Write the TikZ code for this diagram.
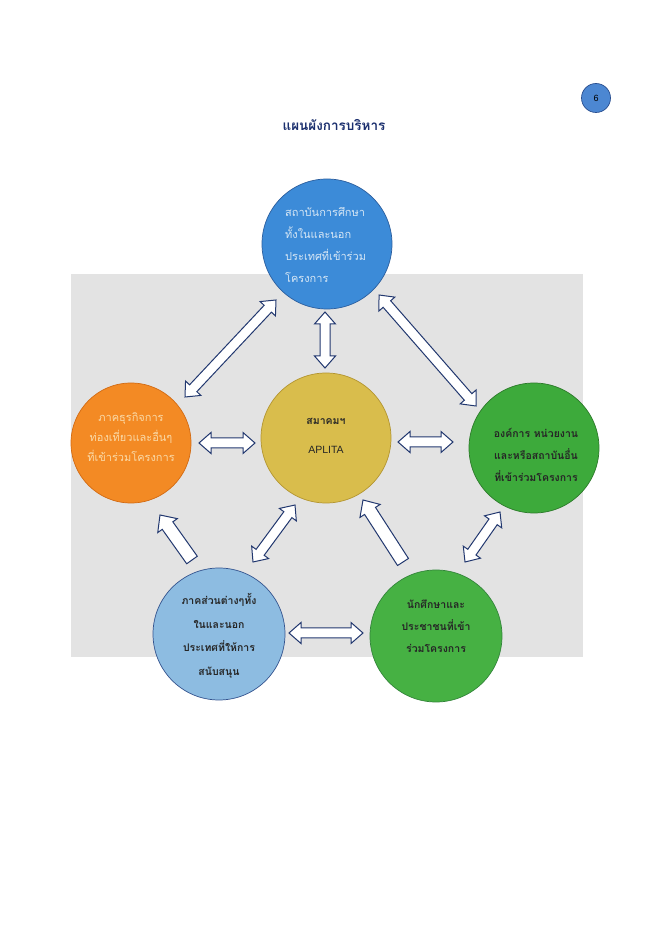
\documentclass[tikz,border=0pt]{standalone}
\usepackage{fontspec}
\setmainfont{Liberation Sans}
\newfontfamily\thai[Script=Thai]{Loma}
\usetikzlibrary{calc}
\definecolor{cblue}{HTML}{3C8BD8}\definecolor{cblueD}{HTML}{2B5E9E}
\definecolor{corange}{HTML}{F38A24}\definecolor{corangeD}{HTML}{D26A12}
\definecolor{cyellow}{HTML}{D9BD4C}\definecolor{cyellowD}{HTML}{B39530}
\definecolor{cgreen}{HTML}{3DAA3B}\definecolor{cgreenD}{HTML}{2C7A2A}
\definecolor{clblue}{HTML}{8DBCE1}\definecolor{clblueD}{HTML}{34548F}
\definecolor{cgreenB}{HTML}{46B143}\definecolor{cgreenBD}{HTML}{33853A}
\definecolor{cpage}{HTML}{4C87D2}\definecolor{cpageD}{HTML}{2A4F90}
\definecolor{arrowc}{HTML}{22386F}
\definecolor{titlec}{HTML}{1B2F6E}
\definecolor{toptext}{HTML}{D5E6F5}
\definecolor{orangetext}{HTML}{FAD9A6}
\definecolor{bggray}{HTML}{E3E3E3}
\def\arHL{12pt}\def\arHW{10.5pt}\def\arSW{5pt}
\def\arsHL{13pt}\def\arsHW{12pt}\def\arsSW{6.5pt}
\newcommand\dblarrow[2]{%
  \coordinate (ha) at ($(#1)!\arHL!(#2)$);
  \coordinate (hb) at ($(#2)!\arHL!(#1)$);
  \draw[barrow] (#1) -- ($(ha)!\arHW!90:(#2)$) -- ($(ha)!\arSW!90:(#2)$)
    -- ($(hb)!\arSW!-90:(#1)$) -- ($(hb)!\arHW!-90:(#1)$) -- (#2)
    -- ($(hb)!\arHW!90:(#1)$) -- ($(hb)!\arSW!90:(#1)$)
    -- ($(ha)!\arSW!-90:(#2)$) -- ($(ha)!\arHW!-90:(#2)$) -- cycle;}
\newcommand\sglarrow[2]{%
  \coordinate (hb) at ($(#2)!\arsHL!(#1)$);
  \draw[barrow] ($(#1)!\arsSW!90:(#2)$) -- ($(hb)!\arsSW!-90:(#1)$)
    -- ($(hb)!\arsHW!-90:(#1)$) -- (#2) -- ($(hb)!\arsHW!90:(#1)$)
    -- ($(hb)!\arsSW!90:(#1)$) -- ($(#1)!\arsSW!-90:(#2)$) -- cycle;}
\tikzset{
  circ/.style={circle, line width=0.7pt, inner sep=0pt},
  barrow/.style={draw=arrowc, fill=white, line width=1pt, line join=miter},
  txt/.style={inner sep=0pt, font=\thai\fontsize{11}{20}\selectfont},
  dtxt/.style={inner sep=0pt, align=center, text=black!85, font=\thai\bfseries\fontsize{10.5}{22}\selectfont},
}
\begin{document}
\begin{tikzpicture}[x=1pt,y=1pt]
\useasboundingbox (0,0) rectangle (660,930);
\fill[white] (0,0) rectangle (660,930);
\fill[bggray] (71,273) rectangle (583,656);
% page number
\node[circ, fill=cpage, draw=cpageD, minimum size=29pt, font=\fontsize{9}{10}\selectfont] (pg) at (596,832) {6};
\node[font=\thai\bfseries\fontsize{13.5}{15}\selectfont, text=titlec] (title) at (334,805) {แผนผังการบริหาร};
% circles
\node[circ, fill=cblue, draw=cblueD, minimum size=130pt] (T) at (327,686) {};
\node[circ, fill=corange, draw=corangeD, minimum size=120pt] (L) at (131,487) {};
\node[circ, fill=cyellow, draw=cyellowD, minimum size=130pt] (C) at (326,492) {};
\node[circ, fill=cgreen, draw=cgreenD, minimum size=130pt] (R) at (534,482) {};
\node[circ, fill=clblue, draw=clblueD, minimum size=132pt] (BL) at (219,296) {};
\node[circ, fill=cgreenB, draw=cgreenBD, minimum size=132pt] (BR) at (436,294) {};
% texts
\node[txt, text=toptext, align=left, anchor=west, font=\thai\fontsize{11}{22}\selectfont] (tT) at (285,685) {สถาบันการศึกษา\\ทั้งในและนอก\\ประเทศที่เข้าร่วม\\โครงการ};
\node[txt, text=orangetext, align=center] (tL) at (131,493) {ภาคธุรกิจการ\\ท่องเที่ยวและอื่นๆ\\ที่เข้าร่วมโครงการ};
\node[txt, align=center, text=black!85, font=\fontsize{10.5}{29}\selectfont] (tC) at (326,494) {{\thai\bfseries สมาคมฯ}\\APLITA};
\node[dtxt] (tR) at (536,475) {องค์การ หน่วยงาน\\และหรือสถาบันอื่น\\ที่เข้าร่วมโครงการ};
\node[dtxt, font=\thai\bfseries\fontsize{10.5}{23.5}\selectfont] (tBL) at (219,294) {ภาคส่วนต่างๆทั้ง\\ในและนอก\\ประเทศที่ให้การ\\สนับสนุน};
\node[dtxt] (tBR) at (436,304) {นักศึกษาและ\\ประชาชนที่เข้า\\ร่วมโครงการ};
% arrow end points
\coordinate (a1) at ($(L)+(54,46)$);   \coordinate (b1) at ($(T)+(-51,-56)$);
\coordinate (a2) at ($(T)+(52,-51)$);  \coordinate (b2) at ($(R)+(-58,42)$);
\coordinate (a3) at ($(T)+(-2,-68)$);  \coordinate (b3) at ($(C)+(-1,70)$);
\coordinate (a4) at ($(L)+(68,0)$);    \coordinate (b4) at ($(C)+(-71,-5)$);
\coordinate (a5) at ($(C)+(72,-4)$);   \coordinate (b5) at ($(R)+(-81,6)$);
\coordinate (a6) at ($(BL)+(-27,74)$); \coordinate (b6) at ($(L)+(29,-72)$);
\coordinate (a7) at ($(BL)+(34,72)$);  \coordinate (b7) at ($(C)+(-31,-67)$);
\coordinate (a8) at ($(BR)+(-33,74)$); \coordinate (b8) at ($(C)+(37,-62)$);
\coordinate (a9) at ($(BR)+(29,74)$);  \coordinate (b9) at ($(R)+(-34,-64)$);
\coordinate (a10) at ($(BL)+(70,1)$);  \coordinate (b10) at ($(BR)+(-73,3)$);
\dblarrow{a1}{b1}
\dblarrow{a2}{b2}
\dblarrow{a3}{b3}
\dblarrow{a4}{b4}
\dblarrow{a5}{b5}
\sglarrow{a6}{b6}
\dblarrow{a7}{b7}
\sglarrow{a8}{b8}
\dblarrow{a9}{b9}
\dblarrow{a10}{b10}
\end{tikzpicture}
\end{document}
